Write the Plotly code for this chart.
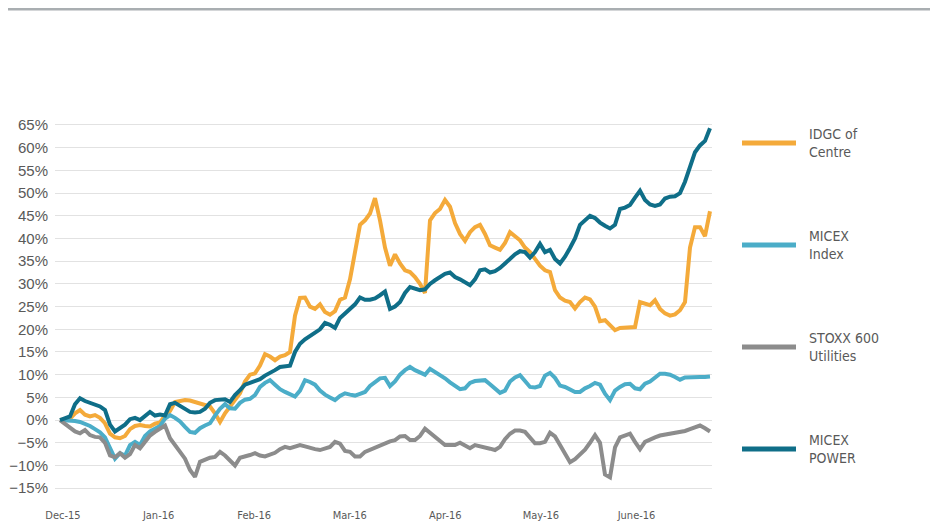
import numpy as np
import plotly.graph_objects as go

# ---- data (percent change since start) ----
idgc = [0, 0.2, 0.3, 1.5, 2.2, 1.2, 0.8, 1.1, 0.5, -0.7, -3, -3.8, -4, -3.5, -2, -1.3, -1.1, -1.3, -1.4, -0.8,
        -0.5, 1, 2, 4, 4.2, 4.4, 4.3, 4, 3.5, 3.2, 3, 1.5, -0.4, 1.5, 2.9, 4.5, 5.9, 8.5, 10, 10.3,
        12, 14.5, 14, 13.2, 14, 14.3, 15, 23, 26.9, 27, 25, 24.5, 25.5, 23.8, 23.2, 24, 26.5, 27, 31, 37,
        43, 44, 45.5, 48.9, 44, 38, 34, 36.5, 34.5, 33, 32.6, 31.5, 30, 28, 44, 45.6, 46.5, 48.5, 47, 43.4,
        41, 39.5, 41.4, 42.5, 43, 41, 38.5, 38, 37.5, 39, 41.4, 40.5, 39.6, 38, 37, 35.5, 34, 33, 32.6, 28.6,
        27, 26.3, 26, 24.6, 26, 27, 26.6, 25, 21.8, 22, 21, 19.8, 20.3, 20.3, 20.3, 20.5, 26, 25.6, 25.3, 26.4,
        24.5, 23.5, 23, 23.3, 24.2, 26, 38, 42.5, 42.5, 40.5, 46]

micex = [0, 0, 0, -0.2, -0.4, -0.8, -1.3, -2, -2.7, -3.8, -6, -8.5, -7.3, -7.8, -5.5, -4.8, -5.5, -3.5, -2.5, -1.8,
         -1.3, 0.3, 1.1, 0.5, -0.3, -1.5, -2.6, -2.8, -1.8, -1.2, -0.7, 1, 2.5, 3.5, 2.6, 2.5, 3.8, 4.5, 4.7, 5.5,
         7.3, 8.2, 8.8, 7.8, 6.8, 6.2, 5.7, 5.2, 6.5, 8.8, 8.4, 7.8, 6.5, 5.6, 5, 4.4, 5.3, 5.9, 5.6, 5.4,
         5.8, 6.2, 7.5, 8.4, 9.2, 9.3, 7.5, 8.5, 10, 11, 11.7, 11, 10.4, 10, 11.3, 10.6, 10, 9.2, 8.3, 7.5,
         6.8, 7, 8.2, 8.6, 8.7, 8.8, 7.9, 7, 6, 6.5, 8.5, 9.4, 9.9, 8.6, 7.3, 7.2, 7.5, 9.8, 10.4, 9.3,
         7.6, 7.3, 6.8, 6.2, 6.2, 7, 7.5, 8.2, 7.8, 5.8, 4.4, 6.5, 7.3, 7.9, 8, 7, 6.8, 8, 8.5, 9.3,
         10.2, 10.2, 10, 9.5, 8.9, 9.4, 9.5, 9.5, 9.5, 9.5, 9.6]

stoxx = [0, -0.8, -1.5, -2.5, -2.9, -2.2, -3.3, -3.7, -3.8, -5, -7.8, -8.2, -7.3, -8.3, -7.5, -5.5, -6.2, -4.8, -3.4, -2.6,
         -1.8, -1.2, -4, -5.5, -6.8, -8.5, -11, -12.5, -9.2, -8.7, -8.3, -8.1, -7, -7.8, -9, -10, -8.3, -8.1, -7.7, -7.3,
         -7.8, -8, -7.5, -7.2, -6.4, -5.9, -6.2, -5.8, -5.5, -5.8, -6.2, -6.4, -6.6, -6.3, -5.9, -4.8, -5.2, -6.8, -7, -8,
         -8, -7, -6.5, -6.2, -5.6, -5.1, -4.7, -4.4, -3.6, -3.5, -4.4, -4.4, -3.5, -1.9, -2.8, -3.7, -4.7, -5.5, -5.5, -5.5,
         -5, -5.5, -6.2, -5.5, -5.7, -5.9, -6.3, -6.6, -5.9, -4.2, -3, -2.3, -2.3, -2.6, -4, -5.1, -5.1, -4.8, -2.8, -3.6,
         -5.5, -7.2, -9.3, -8.6, -7.5, -6.5, -5, -3.3, -5, -12, -12.6, -6, -3.8, -3.3, -3, -4.8, -6.4, -4.8, -4.2, -3.8,
         -3.4, -3.2, -3, -2.9, -2.6, -2.4, -2, -1.6, -1.2, -1.8, -2.5]

power = [0, 0.5, 0.8, 3.5, 4.8, 4.2, 3.8, 3.4, 3, 2.2, -1, -2.5, -1.8, -1, 0.2, 0.5, 0, 1, 1.8, 1,
         1.2, 1, 3.5, 3.8, 3.2, 2.6, 1.8, 1.7, 1.8, 2.5, 3.8, 4.4, 4.6, 4.6, 4, 5.5, 6.6, 7.8, 8.2, 8.6,
         9, 9.8, 10.3, 11, 11.7, 11.8, 12, 15, 16.8, 17.8, 18.5, 19.2, 20, 21.4, 21, 20.3, 22.5, 23.5, 24.5, 25.5,
         27, 26.5, 26.5, 26.8, 27.5, 28.3, 24.5, 25, 26, 28, 29.3, 29, 28.6, 28.8, 30, 30.8, 31.5, 32.2, 32.5, 31.5,
         31, 30.3, 29.7, 31, 33, 33.2, 32.5, 32.8, 33.5, 34.5, 35.5, 36.5, 37.2, 37, 35.8, 37, 38.8, 37, 37.5, 35.5,
         34.5, 36, 37.9, 40, 43, 44, 45, 44.5, 43.5, 42.8, 42.2, 43, 46.5, 46.8, 47.4, 49, 50.5, 48.5, 47.5, 47.2,
         47.5, 48.8, 49.2, 49.3, 50, 52.5, 56, 59, 60.5, 61.5, 64.3]

series_names = ["IDGC of<br>Centre", "MICEX<br>Index", "STOXX 600<br>Utilities", "MICEX<br>POWER"]
series_values = [idgc, micex, stoxx, power]
series_colors = ["#F4AA3A", "#4BADC8", "#8C8C8C", "#0F6E88"]

month_labels = ["Dec-15", "Jan-16", "Feb-16", "Mar-16", "Apr-16", "May-16", "June-16"]

# ---- figure ----
n = len(idgc)
x = np.arange(n)

fig = go.Figure()
for name, vals, col in zip(series_names, series_values, series_colors):
    fig.add_trace(go.Scatter(x=x, y=vals, mode="lines", name=name.replace("<br>", " "),
                             line=dict(color=col, width=4, shape="linear"),
                             showlegend=False, hoverinfo="skip"))

OFF = 8                      # page body margin
W, H = 938 - OFF, 529 - OFF
L = 55 - OFF
T = 120 - OFF
R = W - (712 - OFF)
B = H - (495 - OFF)
pw, ph = W - L - R, H - T - B

def px_x(px):                # screen px -> paper
    return (px - OFF - L) / pw

def px_y(py):
    return (H - B - (py - OFF)) / ph

tick_step = (n - 1) / 6.8
tickvals = [0.6 + tick_step * k for k in range(len(month_labels))]

narrow = "DejaVu Sans Condensed, Liberation Sans Narrow, Roboto, sans-serif"

fig.update_layout(
    width=W, height=H,
    margin=dict(l=L, r=R, t=T, b=B),
    paper_bgcolor="white", plot_bgcolor="white",
    showlegend=False,
    xaxis=dict(range=[-1, (712 - 60) / 5], tickmode="array", tickvals=tickvals, ticktext=month_labels,
               showgrid=False, zeroline=False, showline=False, ticks="", automargin=False,
               tickfont=dict(family=narrow, size=11, color="#595959"),
               ticklabelstandoff=12),
    yaxis=dict(range=[-16.5, 66.1], tickmode="linear", tick0=-15, dtick=5, ticksuffix="%",
               showgrid=True, gridcolor="#E2E2E2", gridwidth=1, zeroline=False, showline=False, ticks="",
               automargin=False,
               tickfont=dict(family="Liberation Sans, Arial, sans-serif", size=15, color="#595959"),
               ticklabelstandoff=6),
)

# top rule
fig.add_shape(type="line", xref="paper", yref="paper", x0=px_x(0), x1=px_x(938), y0=px_y(9), y1=px_y(9),
              line=dict(color="#A9AEB1", width=3), layer="above")

# legend (drawn as key lines + labels)
legend_y = [143, 245, 347, 449]
for name, col, ly in zip(series_names, series_colors, legend_y):
    fig.add_shape(type="line", xref="paper", yref="paper", x0=px_x(742), x1=px_x(796),
                  y0=px_y(ly), y1=px_y(ly), line=dict(color=col, width=5))
    fig.add_annotation(xref="paper", yref="paper", x=px_x(807), y=px_y(ly), text=name,
                       showarrow=False, xanchor="left", yanchor="middle", align="left",
                       font=dict(family=narrow, size=14, color="#595959"))

fig.write_html("out.html")
